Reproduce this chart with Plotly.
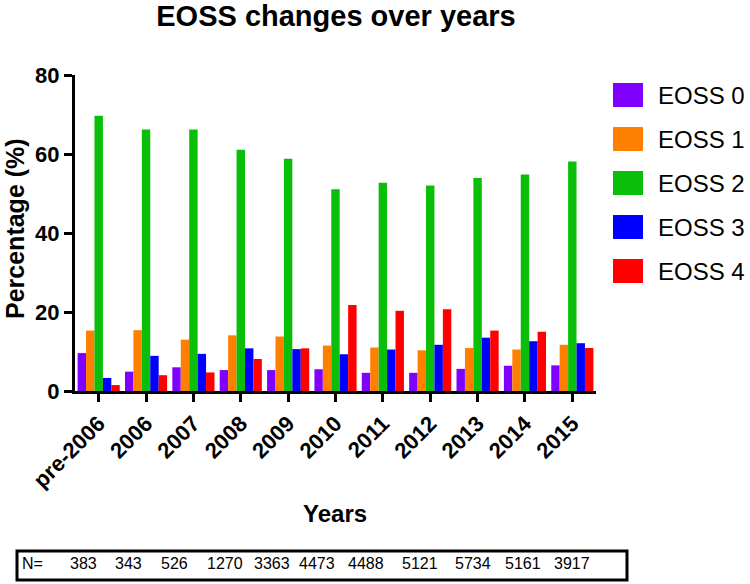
import plotly.graph_objects as go

# ---- data ----
years = ["pre-2006", "2006", "2007", "2008", "2009", "2010",
         "2011", "2012", "2013", "2014", "2015"]
series_names = ["EOSS 0", "EOSS 1", "EOSS 2", "EOSS 3", "EOSS 4"]
eoss0 = [9.6, 4.9, 6.0, 5.3, 5.3, 5.5, 4.6, 4.6, 5.6, 6.4, 6.5]
eoss1 = [15.3, 15.4, 13.0, 14.1, 13.8, 11.5, 11.0, 10.3, 10.9, 10.5, 11.7]
eoss2 = [69.7, 66.2, 66.2, 61.1, 58.8, 51.1, 52.7, 52.0, 53.9, 54.8, 58.1]
eoss3 = [3.3, 8.9, 9.4, 10.8, 10.6, 9.3, 10.5, 11.7, 13.5, 12.6, 12.1]
eoss4 = [1.5, 4.0, 4.7, 8.1, 10.8, 21.8, 20.3, 20.7, 15.3, 15.0, 10.9]
n_values = [383, 343, 526, 1270, 3363, 4473, 4488, 5121, 5734, 5161, 3917]

colors = ["#8000FF", "#FF8000", "#0ABE0A", "#0000FF", "#FF0000"]
FONT = "Liberation Sans, Arial, Helvetica, sans-serif"

# ---- geometry (pixels) ----
W, H = 750, 584
L, R, T, B = 75, 596, 75, 391
pw, ph = R - L, B - T


def px_x(px):
    return (px - L) / pw


def px_y(py):
    return (B - py) / ph


fig = go.Figure()
for name, vals, col in zip(series_names, [eoss0, eoss1, eoss2, eoss3, eoss4], colors):
    fig.add_trace(go.Bar(x=years, y=vals, name=name, marker=dict(color=col, line=dict(width=0)),
                         showlegend=False))

shapes = []
annotations = []

# custom legend
for i, (name, col) in enumerate(zip(series_names, colors)):
    cy = 95 + 44 * i
    shapes.append(dict(type="rect", xref="paper", yref="paper",
                       x0=px_x(613), x1=px_x(643), y0=px_y(cy + 12), y1=px_y(cy - 12),
                       fillcolor=col, line=dict(width=0)))
    annotations.append(dict(xref="paper", yref="paper", x=px_x(656), y=px_y(cy),
                            xanchor="left", yanchor="middle", showarrow=False,
                            text=name, font=dict(family=FONT, size=24, color="black")))

# N table
shapes.append(dict(type="rect", xref="paper", yref="paper",
                   x0=px_x(17), x1=px_x(627), y0=px_y(580), y1=px_y(551),
                   line=dict(color="black", width=3), fillcolor="rgba(0,0,0,0)"))
annotations.append(dict(xref="paper", yref="paper", x=px_x(20), y=px_y(563),
                        xanchor="left", yanchor="middle", showarrow=False,
                        text="N=", font=dict(family=FONT, size=16, color="black")))
n_pos = [83, 128, 174, 225, 272, 317, 366, 420, 473, 523, 572]
for xp, n in zip(n_pos, n_values):
    annotations.append(dict(xref="paper", yref="paper", x=px_x(xp), y=px_y(563),
                            xanchor="center", yanchor="middle", showarrow=False,
                            text=str(n), font=dict(family=FONT, size=16, color="black")))

# axis titles
annotations.append(dict(xref="paper", yref="paper", x=px_x(335), y=px_y(513),
                        xanchor="center", yanchor="middle", showarrow=False,
                        text="Years", font=dict(family=FONT, size=24, color="black", weight="bold")))
annotations.append(dict(xref="paper", yref="paper", x=px_x(15), y=px_y(229),
                        xanchor="center", yanchor="middle", showarrow=False, textangle=-90,
                        text="Percentage (%)", font=dict(family=FONT, size=25, color="black", weight="bold")))

fig.update_layout(
    width=W, height=H,
    margin=dict(l=L, r=W - R, t=T, b=H - B, pad=0),
    paper_bgcolor="white", plot_bgcolor="white",
    barmode="group", bargap=0.11, bargroupgap=0,
    title=dict(text="EOSS changes over years", x=px_x(336), xref="paper", xanchor="center",
               y=1 - 16 / H, yref="container", yanchor="middle",
               font=dict(family=FONT, size=29, color="black", weight="bold")),
    shapes=shapes, annotations=annotations,
    xaxis=dict(showline=True, linecolor="black", linewidth=3, ticks="outside",
               ticklen=8, tickwidth=3, tickcolor="black", tickangle=-45,
               tickfont=dict(family=FONT, size=22, color="black", weight="bold"),
               showgrid=False, zeroline=False, range=[-0.5, 10.5]),
    yaxis=dict(showline=True, linecolor="black", linewidth=3, ticks="outside",
               ticklen=8, tickwidth=3, tickcolor="black", range=[0, 80],
               tickvals=[0, 20, 40, 60, 80],
               tickfont=dict(family=FONT, size=22, color="black", weight="bold"),
               showgrid=False, zeroline=False),
    showlegend=False,
)

fig.write_html("out.html", config={"displayModeBar": False},
               post_script="document.body.style.margin='0';document.body.style.overflow='hidden';")
